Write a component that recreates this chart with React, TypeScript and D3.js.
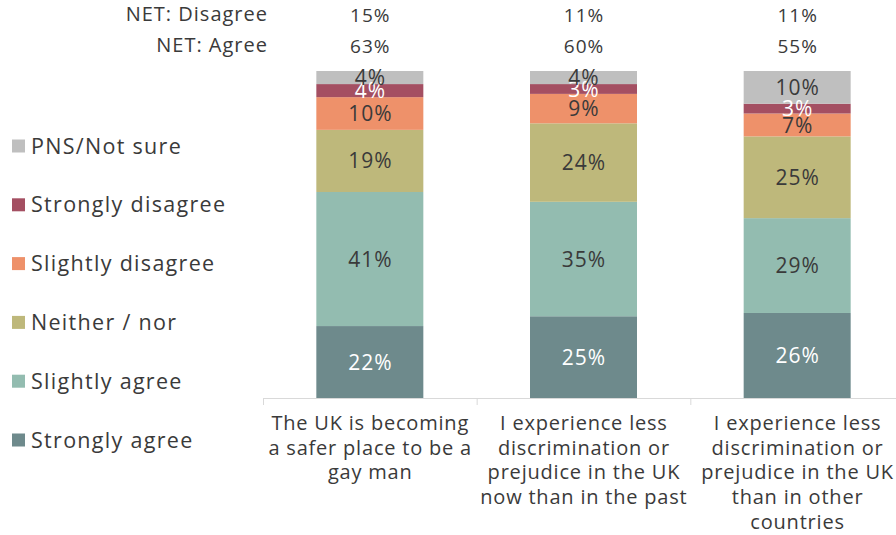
import React from "react";
import * as d3 from "d3";

const categories = [
  ["The UK is becoming", "a safer place to be a", "gay man"],
  ["I experience less", "discrimination or", "prejudice in the UK", "now than in the past"],
  ["I experience less", "discrimination or", "prejudice in the UK", "than in other", "countries"],
];
const seriesNames = ["Strongly agree", "Slightly agree", "Neither / nor", "Slightly disagree", "Strongly disagree", "PNS/Not sure"];
const stronglyAgree = [22, 25, 26];
const slightlyAgree = [41, 35, 29];
const neither = [19, 24, 25];
const slightlyDisagree = [10, 9, 7];
const stronglyDisagree = [4, 3, 3];
const notSure = [4, 4, 10];
const netDisagree = ["15%", "11%", "11%"];
const netAgree = ["63%", "60%", "55%"];

const colors = ["#6E8A8C", "#93BCB0", "#BEB87B", "#EE916A", "#A44F62", "#BFBFBF"];
const labelColors = ["#ffffff", "#3a3a3a", "#3a3a3a", "#3a3a3a", "#ffffff", "#3a3a3a"];

const FONT = "'Open Sans', Lato, sans-serif";

export default function App() {
  const W = 896, H = 535;
  const series = [stronglyAgree, slightlyAgree, neither, slightlyDisagree, stronglyDisagree, notSure];
  const x = d3.scaleBand<number>().domain([0, 1, 2]).range([263, 904]).paddingInner(0).paddingOuter(0);
  const y = d3.scaleLinear().domain([0, 100]).range([398, 71]);
  const barW = 107;
  const rows = categories.map((_, i) => {
    const o: any = {};
    seriesNames.forEach((s, k) => (o[s] = series[k][i]));
    return o;
  });
  const stacked = d3.stack<any>().keys(seriesNames)(rows);
  const legendOrder = [5, 4, 3, 2, 1, 0];
  const cx = (i: number) => x(i)! + x.bandwidth() / 2;

  return (
    <svg width={W} height={H} style={{ position: "absolute", left: 0, top: 0 }} fontFamily={FONT}>
      <rect width={W} height={H} fill="#fff" />
      {/* header */}
      <text x={268} y={14} dy="0.35em" textAnchor="end" fontSize={20} letterSpacing={1} fill="#3a3a3a">NET: Disagree</text>
      <text x={268} y={45} dy="0.35em" textAnchor="end" fontSize={20} letterSpacing={1} fill="#3a3a3a">NET: Agree</text>
      {netDisagree.map((v, i) => (
        <text key={"nd" + i} x={cx(i) + 0.5} y={15} dy="0.35em" textAnchor="middle" fontSize={19} letterSpacing={1} fill="#3a3a3a">{v}</text>
      ))}
      {netAgree.map((v, i) => (
        <text key={"na" + i} x={cx(i) + 0.5} y={46} dy="0.35em" textAnchor="middle" fontSize={19} letterSpacing={1} fill="#3a3a3a">{v}</text>
      ))}
      {/* bars */}
      {stacked.map((layer, k) => (
        <g key={"l" + k}>
          {layer.map((d, i) => (
            <rect key={i} x={cx(i) - barW / 2} y={y(d[1])} width={barW} height={y(d[0]) - y(d[1])} fill={colors[k]} />
          ))}
        </g>
      ))}
      {stacked.map((layer, k) => (
        <g key={"t" + k}>
          {layer.map((d, i) => (
            <text key={i} x={cx(i) + 0.5} y={(y(d[0]) + y(d[1])) / 2} dy="0.36em" textAnchor="middle" fontSize={21} letterSpacing={1} fill={labelColors[k]}>
              {series[k][i]}%
            </text>
          ))}
        </g>
      ))}
      {/* axis */}
      <line x1={263} x2={W} y1={398.5} y2={398.5} stroke="#d9d9d9" strokeWidth={1} />
      {[0, 1, 2].map((i) => (
        <line key={"tk" + i} x1={x(i)! + 0.5} x2={x(i)! + 0.5} y1={398} y2={405} stroke="#d9d9d9" />
      ))}
      {categories.map((lines, i) => (
        <text key={"c" + i} textAnchor="middle" fontSize={20} letterSpacing={0.8} fill="#3a3a3a">
          {lines.map((ln, j) => (
            <tspan key={j} x={cx(i) + 0.4} y={423 + j * 24.7} dy="0.35em">{ln}</tspan>
          ))}
        </text>
      ))}
      {/* legend */}
      {legendOrder.map((k, j) => (
        <g key={"lg" + k} transform={`translate(0, ${146 + j * 58.8})`}>
          <rect x={12} y={-6.5} width={13} height={13} fill={colors[k]} />
          <text x={31} y={0} dy="0.35em" fontSize={21.5} letterSpacing={1.3} fill="#3a3a3a">{seriesNames[k]}</text>
        </g>
      ))}
    </svg>
  );
}
